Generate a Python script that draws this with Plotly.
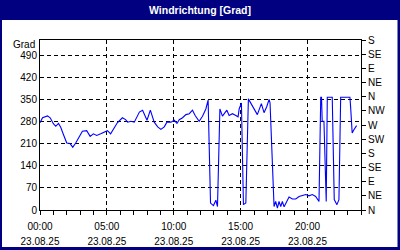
import plotly.graph_objects as go

# ---- data (hours since 23.08.25 00:00, wind direction in degrees) ----
hours = [0.00, 0.19, 0.56, 0.76, 1.00, 1.18, 1.38, 1.55, 1.75, 2.00, 2.25, 2.45, 2.67, 2.93,
         3.17, 3.49, 3.75, 3.99, 4.24, 4.54, 4.91, 5.04, 5.28, 5.54, 5.78, 6.16, 6.40, 6.55,
         6.80, 7.05, 7.43, 7.67, 8.00, 8.25, 8.54, 8.80, 9.04, 9.29, 9.49, 9.79, 10.04, 10.24,
         10.41, 10.66, 10.91, 11.16, 11.40, 11.60, 11.90, 12.15, 12.40, 12.57, 12.75, 12.97,
         13.15, 13.27, 13.45, 13.64, 13.97, 14.14, 14.39, 14.64, 14.81, 14.89, 14.96, 15.06,
         15.21, 15.39, 15.58, 15.76, 16.00, 16.25, 16.55, 16.75, 16.95, 17.13, 17.20, 17.50,
         17.62, 17.75, 17.87, 18.00, 18.12, 18.25, 18.45, 18.62, 18.87, 19.12, 19.37, 19.61,
         19.87, 20.11, 20.36, 20.61, 20.86, 20.99, 21.05, 21.10, 21.23, 21.40, 21.48, 21.85,
         22.00, 22.20, 22.35, 22.48, 23.17, 23.22, 23.34, 23.47, 23.67]
degrees = [277, 293, 299, 293, 274, 266, 275, 263, 240, 213, 211, 199, 213, 231,
           250, 252, 234, 242, 237, 242, 248, 252, 242, 261, 277, 293, 287, 279,
           282, 279, 311, 317, 285, 317, 279, 264, 256, 264, 279, 279, 285, 275,
           287, 293, 303, 306, 317, 300, 282, 298, 321, 349, 22, 14,
           31, 11, 321, 298, 317, 300, 306, 300, 296, 321, 332, 340,
           17, 22, 353, 340, 325, 303, 338, 309, 328, 351, 340, 11,
           27, 6, 27, 11, 27, 10, 27, 41, 35, 35, 43, 45,
           49, 45, 49, 43, 27, 358, 358, 282, 282, 27, 358, 358,
           33, 17, 33, 358, 358, 330, 245, 255, 268]

left_ticks = [0, 70, 140, 210, 280, 350, 420, 490]
right_ticks = [0, 45, 90, 135, 180, 225, 270, 315, 360, 405, 450, 495, 540]
right_labels = ["N", "NE", "E", "SE", "S", "SW", "W", "NW", "N", "NE", "E", "SE", "S"]
x_ticks = [0, 5, 10, 15, 20]
time_labels = ["00:00", "05:00", "10:00", "15:00", "20:00"]
date_labels = ["23.08.25", "23.08.25", "23.08.25", "23.08.25", "23.08.25"]
title_text = "Windrichtung [Grad]"
unit_text = "Grad"

W, H = 400, 250
ML, MR, MT, MB = 40, 39, 40, 40
PW = W - ML - MR
PH = H - MT - MB

def px_x(p):
    return (p - ML) / PW

def px_y(p):
    return (H - MB - p) / PH

FONT = "Liberation Sans, Arial, sans-serif"
NAVY = "#000080"

fig = go.Figure()
fig.add_trace(go.Scatter(x=hours, y=degrees, mode="lines",
                         line=dict(color="#0000ff", width=1.1),
                         hoverinfo="skip", showlegend=False))
fig.add_trace(go.Scatter(x=[0], y=[0], xaxis="x2", yaxis="y2", mode="markers",
                         marker=dict(opacity=0), hoverinfo="skip", showlegend=False))

fig.update_layout(
    width=W, height=H,
    margin=dict(l=ML, r=MR, t=MT, b=MB, autoexpand=False),
    paper_bgcolor="white", plot_bgcolor="white",
    font=dict(family=FONT, size=10, color="#000000"),
    showlegend=False,
    xaxis=dict(range=[0, 24], tickmode="array", tickvals=x_ticks, ticktext=time_labels,
               ticks="outside", ticklen=4, tickcolor="black", ticklabelstandoff=3,
               automargin=False,
               showgrid=True, gridcolor="black", griddash="4px,3px", gridwidth=1,
               showline=True, linecolor="black", linewidth=1, mirror=True,
               zeroline=False, fixedrange=True,
               minor=dict(tickmode="linear", tick0=0, dtick=1, ticks="outside",
                          ticklen=4, tickcolor="black", showgrid=False)),
    xaxis2=dict(range=[0, 24], overlaying="x", side="bottom", tickmode="array",
                tickvals=x_ticks, ticktext=date_labels, ticks="", ticklen=0,
                ticklabelstandoff=24, showgrid=False, showline=False, automargin=False,
                zeroline=False, fixedrange=True),
    yaxis=dict(range=[0, 540], tickmode="array", tickvals=left_ticks, automargin=False,
               ticks="", showgrid=True, gridcolor="black", griddash="4px,3px", gridwidth=1,
               showline=True, linecolor="black", linewidth=1, mirror=True,
               zeroline=False, fixedrange=True),
    yaxis2=dict(range=[0, 540], overlaying="y", side="right", tickmode="array",
                tickvals=right_ticks, ticktext=right_labels, ticks="outside", ticklen=4,
                automargin=False,
                tickcolor="black", showgrid=False, showline=True, linecolor="black",
                zeroline=False, fixedrange=True),
)

shapes = [
    dict(type="rect", xref="paper", yref="paper", x0=px_x(0), x1=px_x(W),
         y0=px_y(20), y1=px_y(0), fillcolor=NAVY, line=dict(width=0)),
    dict(type="rect", xref="paper", yref="paper", x0=px_x(0), x1=px_x(2),
         y0=px_y(H), y1=px_y(0), fillcolor=NAVY, line=dict(width=0)),
    dict(type="rect", xref="paper", yref="paper", x0=px_x(397.5), x1=px_x(W),
         y0=px_y(H), y1=px_y(0), fillcolor=NAVY, line=dict(width=0)),
    dict(type="rect", xref="paper", yref="paper", x0=px_x(0), x1=px_x(W),
         y0=px_y(H), y1=px_y(247), fillcolor=NAVY, line=dict(width=0)),
]
fig.update_layout(shapes=shapes)

fig.add_annotation(text="<b>" + title_text + "</b>", xref="paper", yref="paper",
                   x=px_x(200), y=px_y(10), xanchor="center", yanchor="middle",
                   showarrow=False, font=dict(family=FONT, size=10.5, color="white"))
fig.add_annotation(text=unit_text, xref="paper", yref="paper",
                   x=px_x(37), y=px_y(44), xanchor="right", yanchor="middle",
                   showarrow=False, font=dict(family=FONT, size=10, color="black"))

fig.write_html("out.html")
